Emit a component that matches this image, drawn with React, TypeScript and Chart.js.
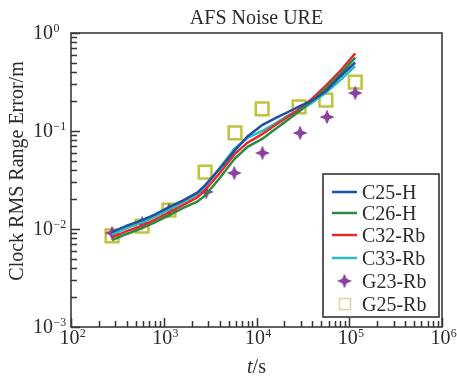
import React, { useEffect, useRef } from "react";
import { Chart, registerables } from "chart.js";

Chart.register(...registerables);

const lineT = [277, 400, 584, 800, 1140, 1600, 2300, 2800, 4000, 5800, 8000, 11500, 16000, 23000, 29000, 40000, 56000, 80000, 116000];
const c25H = [0.0093, 0.0108, 0.0123, 0.0140, 0.0167, 0.0195, 0.0235, 0.028, 0.041, 0.063, 0.088, 0.115, 0.135, 0.160, 0.178, 0.205, 0.255, 0.36, 0.50];
const c26H = [0.0077, 0.0089, 0.0102, 0.0117, 0.0138, 0.0163, 0.019, 0.022, 0.033, 0.052, 0.069, 0.083, 0.105, 0.135, 0.160, 0.205, 0.27, 0.38, 0.56];
const c32Rb = [0.0082, 0.0095, 0.0108, 0.0124, 0.0147, 0.0175, 0.021, 0.025, 0.037, 0.058, 0.076, 0.093, 0.115, 0.145, 0.168, 0.215, 0.29, 0.41, 0.62];
const c33Rb = [0.0088, 0.0102, 0.0117, 0.0133, 0.0158, 0.0188, 0.0225, 0.027, 0.042, 0.066, 0.085, 0.100, 0.120, 0.148, 0.160, 0.195, 0.245, 0.33, 0.46];

const g23T = [277, 584, 1140, 2880, 5760, 11600, 29500, 57600, 116000];
const g23Rb = [0.0091, 0.0115, 0.0156, 0.0239, 0.0373, 0.0597, 0.0955, 0.139, 0.244];
const g25T = [277, 584, 1140, 2790, 5870, 11500, 28800, 56000, 116000];
const g25Rb = [0.0085, 0.0107, 0.0156, 0.038, 0.0955, 0.168, 0.176, 0.207, 0.316];

const xDecades = [2, 3, 4, 5, 6];
const yDecades = [-3, -2, -1, 0];

const FONT = '"Liberation Serif", "Times New Roman", serif';
const TEXT = "#2b2b2b";

function makeStar(size: number, color: string) {
  const c = document.createElement("canvas");
  c.width = size;
  c.height = size;
  const ctx = c.getContext("2d")!;
  const cx = size / 2, cy = size / 2, R = size / 2 - 0.5, r = R * 0.42;
  ctx.beginPath();
  for (let k = 0; k < 8; k++) {
    const a = -Math.PI / 2 + (k * Math.PI) / 4;
    const rad = k % 2 === 0 ? R : r;
    const px = cx + rad * Math.cos(a), py = cy + rad * Math.sin(a);
    if (k === 0) ctx.moveTo(px, py); else ctx.lineTo(px, py);
  }
  ctx.closePath();
  ctx.fillStyle = color;
  ctx.fill();
  return c;
}

const pts = (xs: number[], ys: number[]) => xs.map((x, i) => ({ x, y: ys[i] }));

export default function App() {
  const ref = useRef<HTMLCanvasElement>(null);
  useEffect(() => {
    const star = makeStar(16, "#8b3f9e");
    const legendStar = makeStar(16, "#8b3f9e");
    const decor = {
      id: "decor",
      afterDraw(chart: any) {
        const ctx = chart.ctx as CanvasRenderingContext2D;
        const a = chart.chartArea;
        const xs = chart.scales.x, ys = chart.scales.y;
        ctx.save();
        // ticks
        ctx.strokeStyle = "#333";
        ctx.lineWidth = 1.5;
        ctx.beginPath();
        for (const e of xDecades) {
          for (let m = 1; m <= 9; m++) {
            const v = m * Math.pow(10, e);
            if (v > 1e6 + 1) break;
            const px = Math.round(xs.getPixelForValue(v)) + 0.5;
            const len = m === 1 ? 9 : 6;
            ctx.moveTo(px, a.bottom);
            ctx.lineTo(px, a.bottom - len);
          }
        }
        for (const e of yDecades) {
          for (let m = 1; m <= 9; m++) {
            const v = m * Math.pow(10, e);
            if (v > 1 + 1e-9) break;
            const py = Math.round(ys.getPixelForValue(v)) + 0.5;
            const len = m === 1 ? 9 : 6;
            ctx.moveTo(a.left, py);
            ctx.lineTo(a.left + len, py);
          }
        }
        ctx.stroke();
        // box
        ctx.lineWidth = 1.6;
        ctx.strokeStyle = "#3a3a3a";
        ctx.strokeRect(a.left, a.top, a.right - a.left, a.bottom - a.top);
        // tick labels
        ctx.fillStyle = TEXT;
        ctx.textBaseline = "alphabetic";
        const baseFont = `20px ${FONT}`;
        const supFont = `12px ${FONT}`;
        for (const e of xDecades) {
          const px = xs.getPixelForValue(Math.pow(10, e)) - 1.5;
          ctx.font = baseFont;
          const w = ctx.measureText("10").width;
          ctx.textAlign = "left";
          ctx.fillText("10", px - w / 2, 344);
          ctx.font = supFont;
          ctx.fillText(String(e).replace("-", "\u2212"), px + w / 2 + 0.3, 337);
        }
        for (const e of yDecades) {
          const py = ys.getPixelForValue(Math.pow(10, e));
          ctx.font = baseFont;
          ctx.textAlign = "right";
          ctx.fillText("10", 53, py + 6);
          ctx.font = supFont;
          ctx.textAlign = "left";
          ctx.fillText(String(e).replace("-", "\u2212"), 53.5, py - 1);
        }
        // title
        ctx.font = baseFont;
        ctx.textAlign = "center";
        ctx.fillText("AFS Noise URE", (a.left + a.right) / 2, 24);
        // x title
        ctx.font = `italic 20px ${FONT}`;
        const wt = ctx.measureText("t").width;
        ctx.font = baseFont;
        const ws = ctx.measureText("/s").width;
        const x0 = (a.left + a.right) / 2 - (wt + ws) / 2;
        ctx.textAlign = "left";
        ctx.font = `italic 20px ${FONT}`;
        ctx.fillText("t", x0, 373);
        ctx.font = baseFont;
        ctx.fillText("/s", x0 + wt, 373);
        // y title
        ctx.save();
        ctx.translate(23, 171);
        ctx.rotate(-Math.PI / 2);
        ctx.textAlign = "center";
        ctx.fillText("Clock RMS Range Error/m", 0, 0);
        ctx.restore();
        // legend
        const lx = 323, ly = 174, lw = 116, lh = 143;
        ctx.fillStyle = "#fff";
        ctx.fillRect(lx, ly, lw, lh);
        ctx.strokeStyle = "#333";
        ctx.lineWidth = 1.6;
        ctx.strokeRect(lx, ly, lw, lh);
        const rows = [192, 213, 235, 258, 281, 304];
        chart.data.datasets.forEach((ds: any, i: number) => {
          const cy = rows[i];
          if (i < 4) {
            ctx.strokeStyle = ds.borderColor;
            ctx.lineWidth = 2.5;
            ctx.beginPath();
            ctx.moveTo(332, cy);
            ctx.lineTo(357, cy);
            ctx.stroke();
          } else if (i === 4) {
            ctx.drawImage(legendStar, 344.5 - 8, cy - 8);
          } else {
            ctx.strokeStyle = "#d9d49a";
            ctx.lineWidth = 1.5;
            ctx.strokeRect(339.5, cy - 5.5, 11, 11);
          }
          ctx.fillStyle = TEXT;
          ctx.font = baseFont;
          ctx.textAlign = "left";
          ctx.fillText(ds.label, 362, cy + 7);
        });
        ctx.restore();
      },
    };
    const chart = new Chart(ref.current!, {
      type: "line",
      data: {
        datasets: [
          { label: "C25-H", data: pts(lineT, c25H), borderColor: "#1f4fa0", borderWidth: 2.5, pointRadius: 0, tension: 0 },
          { label: "C26-H", data: pts(lineT, c26H), borderColor: "#2a8a3e", borderWidth: 2.5, pointRadius: 0, tension: 0 },
          { label: "C32-Rb", data: pts(lineT, c32Rb), borderColor: "#e8282a", borderWidth: 2.5, pointRadius: 0, tension: 0 },
          { label: "C33-Rb", data: pts(lineT, c33Rb), borderColor: "#2bbcc0", borderWidth: 2.5, pointRadius: 0, tension: 0 },
          { label: "G23-Rb", data: pts(g23T, g23Rb), showLine: false, pointStyle: star as any, pointRadius: 8, borderColor: "#8b3f9e", backgroundColor: "#8b3f9e" },
          { label: "G25-Rb", data: pts(g25T, g25Rb), showLine: false, pointStyle: "rect", pointRadius: 9, pointBorderWidth: 2.5, borderColor: "#bfc23c", backgroundColor: "rgba(0,0,0,0)" },
        ] as any,
      },
      options: {
        animation: false,
        responsive: true,
        maintainAspectRatio: false,
        layout: { padding: { left: 71, top: 33, right: 15, bottom: 50 } },
        plugins: { legend: { display: false }, title: { display: false }, tooltip: { enabled: false } },
        scales: {
          x: { type: "logarithmic", min: 100, max: 1e6, display: false },
          y: { type: "logarithmic", min: 1e-3, max: 1, display: false },
        },
      },
      plugins: [decor],
    });
    return () => chart.destroy();
  }, []);
  return (
    <div style={{ position: "fixed", left: 0, top: 0, width: 457, height: 377, background: "#fff" }}>
      <canvas ref={ref} />
    </div>
  );
}
